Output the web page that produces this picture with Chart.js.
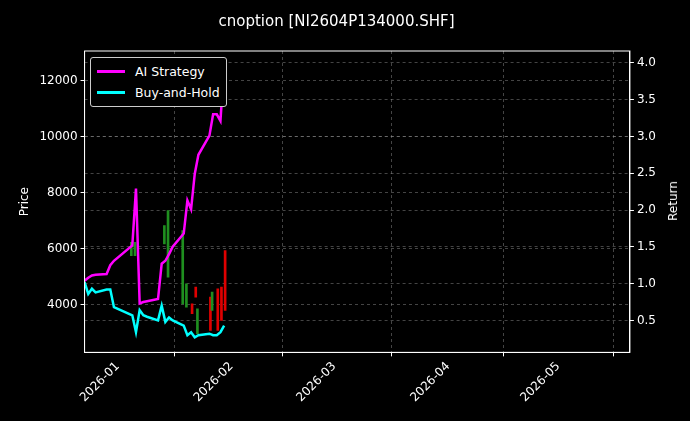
<!DOCTYPE html>
<html>
<head>
<meta charset="utf-8">
<script src="https://cdn.jsdelivr.net/npm/chart.js@4/dist/chart.umd.min.js"></script>
<style>
  body { margin: 0; background: #000; }
  #wrap { position: relative; width: 690px; height: 421px; }
  #legend { position: absolute; left: 90px; top: 57px; border: 1px solid #ccc; border-radius: 3px;
    padding: 3px 6px; font: 12.5px "DejaVu Sans", sans-serif; color: #fff; background: #000; }
  #legend div { display: flex; align-items: center; height: 21px; }
  #legend span.l { display: inline-block; width: 28px; height: 3px; margin-right: 10px; }
  #rtitle { position: absolute; left: 673px; top: 201px; transform: translate(-50%, -50%) rotate(-90deg);
    font: 12px "DejaVu Sans", sans-serif; color: #fff; }
</style>
</head>
<body>
<div id="wrap">
  <canvas id="c" width="690" height="421"></canvas>
  <div id="legend">
    <div><span class="l" style="background:#ff00ff"></span>AI Strategy</div>
    <div><span class="l" style="background:#00ffff"></span>Buy-and-Hold</div>
  </div>
  <div id="rtitle">Return</div>
</div>
<script>
// days relative to 2026-01-01
const days = [-9, -8, -7, -6, -3, -2, -1, 4, 5, 6, 7, 8, 11, 12, 13, 14, 15, 18, 19, 20, 21, 22, 25, 26, 27, 28, 29];
const strategy = [1.04, 1.08, 1.11, 1.12, 1.13, 1.25, 1.31, 1.52, 2.29, 0.73, 0.75, 0.76, 0.79, 1.27, 1.31, 1.40, 1.50, 1.68, 2.13, 2.01, 2.49, 2.75, 3.01, 3.30, 3.30, 3.21, 3.98];
const buyHold = [1.02, 0.86, 0.93, 0.88, 0.92, 0.92, 0.68, 0.57, 0.34, 0.64, 0.57, 0.55, 0.50, 0.70, 0.48, 0.54, 0.50, 0.43, 0.30, 0.34, 0.27, 0.30, 0.32, 0.30, 0.30, 0.34, 0.43];

const upDays = [4, 5, 13, 14, 18, 19, 22, 26];
const upLow = [5750, 5750, 6167, 4976, 4024, 3905, 2952, 3786];
const upHigh = [6225, 6225, 6821, 7357, 6643, 4738, 3845, 4440];
const downDays = [20, 21, 25, 27, 28, 29];
const downLow = [3667, 4262, 3071, 3071, 3429, 3786];
const downHigh = [4024, 4619, 4262, 4560, 4619, 5929];

const monthTicks = [0, 31, 59, 90, 120];
const monthLabels = ['2026-01', '2026-02', '2026-03', '2026-04', '2026-05'];
const priceTicks = [4000, 6000, 8000, 10000, 12000];
const returnTicks = [0.5, 1.0, 1.5, 2.0, 2.5, 3.0, 3.5, 4.0];

const frame = {
  id: 'frame',
  afterDatasetsDraw(chart) {
    const a = chart.chartArea, ctx = chart.ctx;
    ctx.save();
    ctx.strokeStyle = '#fff';
    ctx.lineWidth = 1;
    ctx.strokeRect(a.left, a.top, a.right - a.left, a.bottom - a.top);
    ctx.restore();
  }
};

const grid = { color: 'rgba(150,150,150,0.45)', drawTicks: true, tickColor: '#fff', tickLength: 4 };
const border = { color: '#fff', dash: [3, 3] };
const font = { family: 'DejaVu Sans', size: 12 };

new Chart(document.getElementById('c'), {
  data: {
    datasets: [
      { type: 'line', label: 'AI Strategy', data: days.map((d, i) => ({ x: d, y: strategy[i] })), yAxisID: 'y2',
        borderColor: '#ff00ff', borderWidth: 2.5, pointRadius: 0, tension: 0 },
      { type: 'line', label: 'Buy-and-Hold', data: days.map((d, i) => ({ x: d, y: buyHold[i] })), yAxisID: 'y2',
        borderColor: '#00ffff', borderWidth: 2.5, pointRadius: 0, tension: 0 },
      { type: 'bar', label: 'up', data: upDays.map((d, i) => ({ x: d, y: [upLow[i], upHigh[i]] })), yAxisID: 'y',
        backgroundColor: '#1f8f1f', barThickness: 2, order: 5 },
      { type: 'bar', label: 'down', data: downDays.map((d, i) => ({ x: d, y: [downLow[i], downHigh[i]] })), yAxisID: 'y',
        backgroundColor: '#e00000', barThickness: 2, order: 5 }
    ]
  },
  options: {
    responsive: false,
    animation: false,
    layout: { padding: { top: 5, right: 31, left: 14, bottom: 13 } },
    plugins: {
      legend: { display: false },
      tooltip: { enabled: false },
      title: { display: true, text: 'cnoption [NI2604P134000.SHF]', color: '#fff',
        font: { family: 'DejaVu Sans', size: 15, weight: 'normal' }, padding: { top: 8, bottom: 20 } }
    },
    scales: {
      x: { type: 'linear', min: -9, max: 139.5, offset: false,
        afterBuildTicks: s => { s.ticks = monthTicks.map(v => ({ value: v })); },
        ticks: { color: '#fff', font, maxRotation: 45, minRotation: 45, autoSkip: false,
          callback: v => monthLabels[monthTicks.indexOf(v)] },
        grid, border },
      y: { position: 'left', min: 2286, max: 13070,
        afterBuildTicks: s => { s.ticks = priceTicks.map(v => ({ value: v })); },
        ticks: { color: '#fff', font, callback: v => String(v) },
        title: { display: true, text: 'Price', color: '#fff', font },
        grid, border },
      y2: { position: 'right', min: 0.066, max: 4.16,
        afterBuildTicks: s => { s.ticks = returnTicks.map(v => ({ value: v })); },
        ticks: { color: '#fff', font, callback: v => v.toFixed(1) },
        grid, border }
    }
  },
  plugins: [frame]
});
</script>
</body>
</html>
